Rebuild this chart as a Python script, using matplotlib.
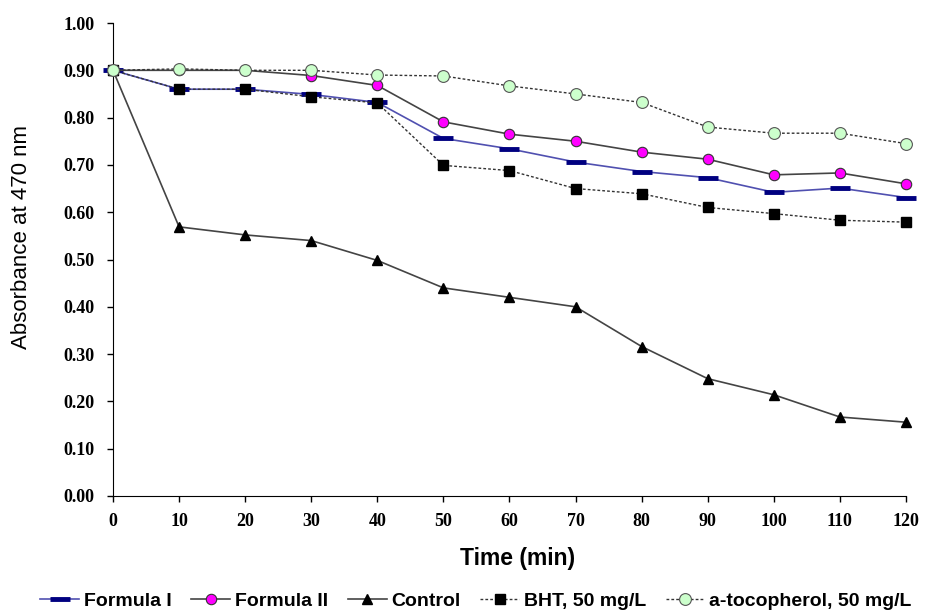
import matplotlib
matplotlib.use("Agg")
import matplotlib.pyplot as plt
import numpy as np

time_min = [0, 10, 20, 30, 40, 50, 60, 70, 80, 90, 100, 110, 120]

formula_1 = [0.900, 0.860, 0.860, 0.849, 0.832, 0.756, 0.734, 0.706, 0.686, 0.673, 0.642, 0.651, 0.631]
formula_2 = [0.900, 0.900, 0.900, 0.889, 0.868, 0.791, 0.765, 0.750, 0.727, 0.712, 0.679, 0.683, 0.660]
control = [0.900, 0.569, 0.552, 0.540, 0.498, 0.440, 0.420, 0.400, 0.316, 0.248, 0.214, 0.167, 0.156]
bht = [0.900, 0.860, 0.860, 0.844, 0.831, 0.699, 0.688, 0.650, 0.639, 0.610, 0.597, 0.583, 0.579]
tocopherol = [0.900, 0.903, 0.900, 0.900, 0.890, 0.888, 0.867, 0.850, 0.832, 0.780, 0.767, 0.767, 0.745]

x_ticks = list(range(0, 121, 10))
y_ticks = [0.0, 0.1, 0.2, 0.3, 0.4, 0.5, 0.6, 0.7, 0.8, 0.9, 1.0]

sans = ["Liberation Sans Narrow", "Liberation Sans", "DejaVu Sans"]
serif = ["Liberation Serif", "DejaVu Serif"]

W, H = 927, 612
fig = plt.figure(figsize=(W / 100, H / 100), dpi=100)
ax = fig.add_axes([113 / W, 1 - 496 / H, (906 - 113) / W, (496 - 23) / H])

ax.plot(time_min, formula_1, color="#5050b0", lw=1.2, marker="_", ms=15, mew=3.5,
        mec="#000080", label="Formula I", clip_on=False, zorder=3)
ax.plot(time_min, formula_2, color="#444444", lw=1.2, marker="o", ms=7.5, mfc="#ff00ff",
        mec="#333333", mew=0.8, label="Formula II", clip_on=False, zorder=3)
ax.plot(time_min, control, color="#444444", lw=1.2, marker="^", ms=7, mfc="black",
        mec="black", label="Control", clip_on=False, zorder=3)
ax.plot(time_min, bht, color="#333333", lw=1.0, ls=(0, (2, 1.5)), marker="s", ms=7.5,
        mfc="black", mec="black", label="BHT, 50 mg/L", clip_on=False, zorder=4)
ax.plot(time_min, tocopherol, color="#333333", lw=1.0, ls=(0, (2, 1.5)), marker="o", ms=8.5,
        mfc="#ccffcc", mec="#555555", mew=0.8, label="a-tocopherol, 50 mg/L", clip_on=False, zorder=5)

ax.set_xlim(0, 120)
ax.set_ylim(0, 1.0)
ax.set_xticks(x_ticks)
ax.set_yticks(y_ticks)
ax.set_xticklabels([str(t) for t in x_ticks], family=serif, fontweight="bold", fontsize=13)
ax.set_yticklabels(["%.2f" % v for v in y_ticks], family=serif, fontweight="bold", fontsize=13)
ax.tick_params(axis="y", direction="out", length=4.5, width=1, pad=9)
ax.tick_params(axis="x", direction="out", length=4.5, width=1, pad=8)
ax.spines["top"].set_visible(False)
ax.spines["right"].set_visible(False)

fig.text(518 / W, 1 - 558 / H, "Time (min)", family=sans, fontweight="bold",
         fontsize=16.5, ha="center", va="center")
fig.text(22 / W, 1 - 237 / H, "Absorbance at 470 nm", family=sans, fontsize=16,
         rotation=90, ha="center", va="center")

leg = fig.legend(loc="center", bbox_to_anchor=(476 / W, 1 - 601 / H), ncol=5, frameon=False,
                 prop={"family": sans, "weight": "bold", "size": 14},
                 handlelength=2.0, columnspacing=1.0, handletextpad=0.25,
                 borderpad=0, borderaxespad=0)

fig.savefig("out.png", dpi=100)
